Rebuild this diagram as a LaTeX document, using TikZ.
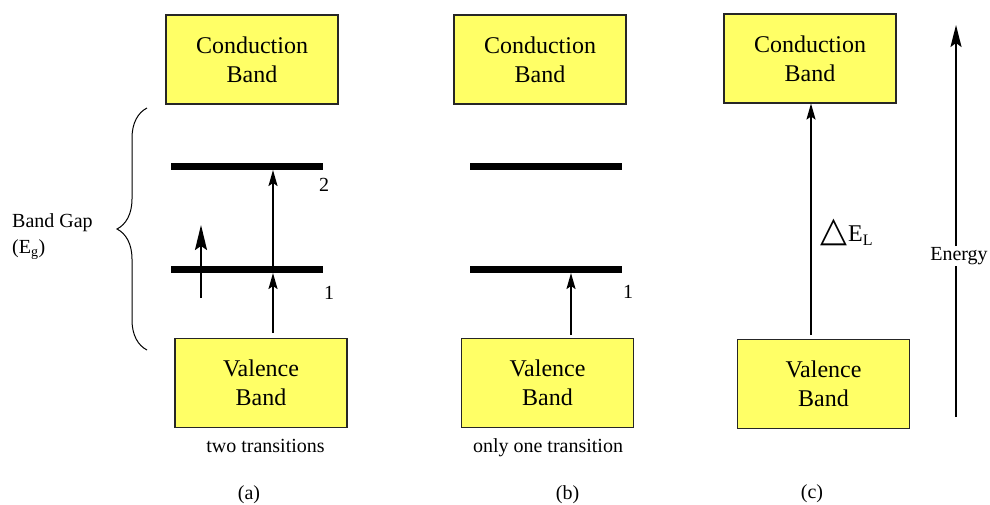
\documentclass[tikz,border=0pt]{standalone}
\usepackage{fontspec}
\setmainfont{Liberation Serif}
\newfontfamily\symfont{DejaVu Sans}
\usetikzlibrary{arrows.meta,decorations.pathreplacing}
\definecolor{bandfill}{HTML}{FFFF66}
\begin{document}
\begin{tikzpicture}[x=1pt,y=-1pt,
  band/.style={draw=black!85, line width=1.2pt, fill=bandfill,
    minimum width=172pt, minimum height=89pt, inner sep=0pt,
    align=center, font=\fontsize{24}{29}\selectfont},
  level/.style={line width=7pt},
  trans/.style={line width=2pt, -{Stealth[length=16pt,width=9pt,inset=3pt]}},
  bigtip/.style={line width=2pt, -{Stealth[length=25pt,width=12pt,inset=4pt]}},
  lbl/.style={font=\fontsize{20}{24}\selectfont, inner sep=0pt},
]
\path[use as bounding box] (0,0) rectangle (990,504);

% ---------- (a) two transitions ----------
\node[band] (ca) at (252,59.5) {Conduction\\Band};
\node[band] (va) at (261,383) {Valence\\Band};
\coordinate (a2l) at (171,166.5); \coordinate (a2r) at (323,166.5);
\coordinate (a1l) at (171,269.5); \coordinate (a1r) at (323,269.5);
\draw[level] (a2l) -- (a2r);
\draw[level] (a1l) -- (a1r);
\coordinate (ta0) at (273,333);
\coordinate (ta1) at (273,273);
\coordinate (ta1m) at (273,269.5);
\coordinate (ta2) at (273,170);
\draw[trans] (ta0) -- (ta1);
\draw[trans] (ta1m) -- (ta2);
\coordinate (sa0) at (201,298);
\coordinate (sa1) at (201,225);
\draw[bigtip] (sa0) -- (sa1);
\node[lbl] (lv2) at (324,185) {2};
\node[lbl] (lv1a) at (329,293) {1};

% band gap brace and label
\coordinate (gtop) at (147,108);
\coordinate (gbot) at (147,350);
\draw[line width=1pt, decorate, decoration={brace, amplitude=30pt}] (gbot) -- (gtop);
\node[lbl, anchor=base west] (bg) at (12,227) {Band Gap};
\node[lbl, anchor=base west] (eg) at (12,253) {(E\textsubscript{g})};

\node[lbl, anchor=base] (capa) at (265.5,452) {two transitions};
\node[lbl, anchor=base] (laba) at (249,499) {(a)};

% ---------- (b) one transition ----------
\node[band] (cb) at (540,59.5) {Conduction\\Band};
\node[band] (vb) at (547.5,383) {Valence\\Band};
\coordinate (b2l) at (470,166.5); \coordinate (b2r) at (622,166.5);
\coordinate (b1l) at (470,269.5); \coordinate (b1r) at (622,269.5);
\draw[level] (b2l) -- (b2r);
\draw[level] (b1l) -- (b1r);
\coordinate (tb0) at (571,335);
\coordinate (tb1) at (571,273);
\draw[trans] (tb0) -- (tb1);
\node[lbl] (lv1b) at (628,292) {1};

\node[lbl, anchor=base] (capb) at (548,452) {only one transition};
\node[lbl, anchor=base] (labb) at (567.5,499) {(b)};

% ---------- (c) direct gap ----------
\node[band] (cc) at (810,58.5) {Conduction\\Band};
\node[band] (vc) at (823.5,384) {Valence\\Band};
\coordinate (tc0) at (811,335);
\coordinate (tc1) at (811,103.5);
\draw[trans] (tc0) -- (tc1);
\node[anchor=base west, inner sep=0pt, font=\fontsize{24}{28}\selectfont] (del) at (820,241)
  {{\symfont\fontsize{35}{35}\selectfont △}\kern1pt E\raisebox{-4pt}{\fontsize{16}{18}\selectfont L}};
\node[lbl, anchor=base] (labc) at (812,498) {(c)};

% energy axis
\coordinate (ebot) at (956,417);
\coordinate (etop) at (956,25);
\node[lbl, inner sep=1pt] (en) at (959,256) {Energy};
\draw[line width=1.2pt] (ebot) -- (ebot |- en.south);
\draw[line width=2pt, -{Stealth[length=22pt,width=11pt,inset=4pt]}] (etop |- en.north) -- (etop);
\end{tikzpicture}
\end{document}
